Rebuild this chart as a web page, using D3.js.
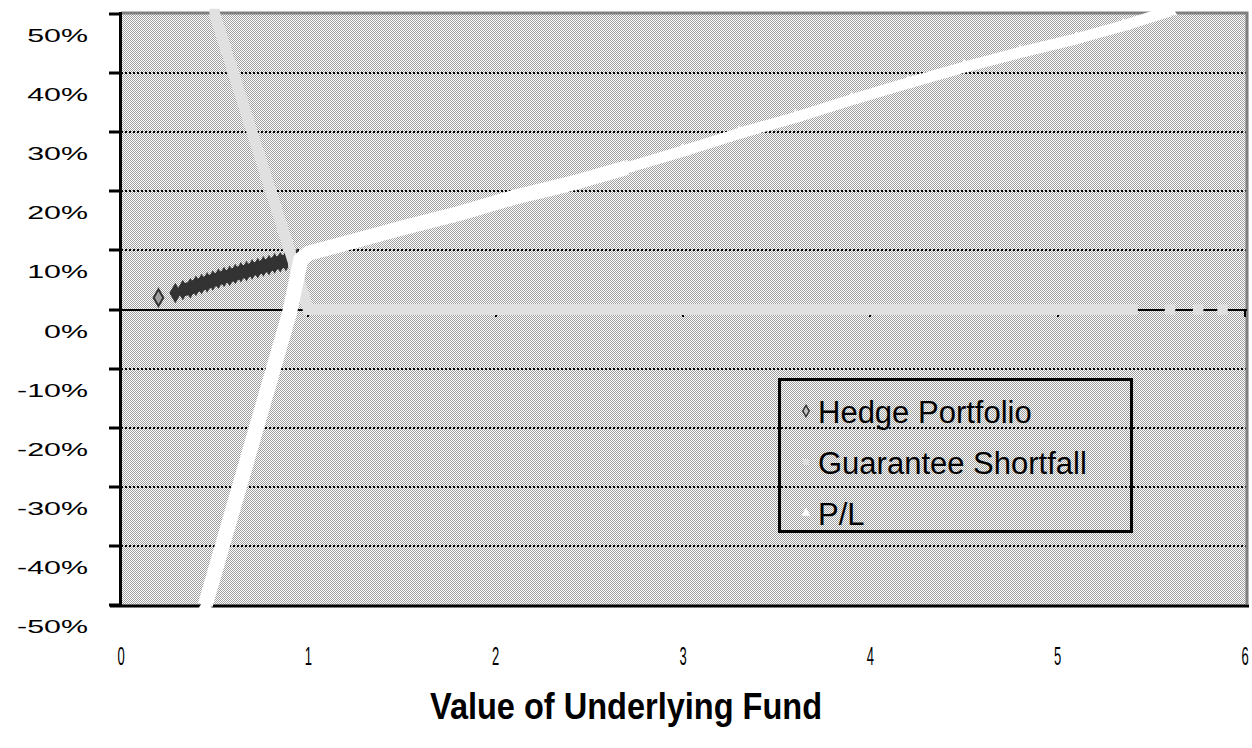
<!DOCTYPE html>
<html>
<head>
<meta charset="utf-8">
<script src="https://cdn.jsdelivr.net/npm/d3@7/dist/d3.min.js"></script>
<style>
  body { margin: 0; background: #fff; }
  svg { display: block; }
</style>
</head>
<body>
<script>
(function(){

//axis ticks
var yTicks = [50, 40, 30, 20, 10, 0, -10, -20, -30, -40, -50];
var xTicks = [0, 1, 2, 3, 4, 5, 6];

//hedge portfolio (value of fund, %)
var hedgeX = [0.20, 0.29, 0.33, 0.37, 0.40, 0.43, 0.46, 0.49, 0.52, 0.55, 0.58, 0.61,
              0.64, 0.67, 0.70, 0.73, 0.76, 0.79, 0.82, 0.85, 0.88, 0.91, 0.94];
var hedgeY = [2.0, 2.8, 3.3, 3.6, 4.0, 4.3, 4.6, 4.9, 5.2, 5.5, 5.7, 6.0,
              6.3, 6.5, 6.8, 7.0, 7.3, 7.5, 7.8, 8.0, 8.2, 8.4, 8.6];

//guarantee shortfall
var shortX = [0.50, 0.53, 0.56, 0.59, 0.62, 0.65, 0.68, 0.71, 0.74, 0.77, 0.80, 0.83,
              0.86, 0.89, 0.92, 0.95, 0.98, 1.00, 1.10, 1.30, 1.60, 2.00, 2.50, 3.00,
              3.50, 4.00, 4.50, 5.00, 5.40, 5.60, 5.75, 5.88];
var shortY = [50, 47, 44, 41, 38, 35, 32, 29, 26, 23, 20, 17,
              14, 11, 8, 5, 2, 0, 0, 0, 0, 0, 0, 0,
              0, 0, 0, 0, 0, 0, 0, 0];

//profit / loss
var plX = [0.45, 0.50, 0.55, 0.60, 0.65, 0.70, 0.75, 0.80, 0.85, 0.90, 0.93, 0.96,
           1.00, 1.20, 1.50, 1.80, 2.10, 2.40, 2.70, 3.00, 3.30, 3.60, 3.90, 4.20,
           4.50, 4.80, 5.10, 5.35, 5.60];
var plY = [-50, -44.5, -39, -33.5, -28, -22.5, -17, -11.5, -6, -0.5, 4, 8.5,
           9.5, 11.2, 13.8, 16.2, 19, 21.3, 24, 26.8, 29.8, 32.5, 35.5, 38.3,
           41, 43.5, 45.8, 48, 50.5];

var seriesNames = ["Hedge Portfolio", "Guarantee Shortfall", "P/L"];

window.onload = drawChart();

function zip(xs, ys){
    return xs.map(function(x, i){ return [x, ys[i]]; });
};

function drawChart(){

    var width = 1252,
        height = 748;

    var svg = d3.select("body")
        .append("svg")
        .attr("width", width)
        .attr("height", height);

    //dithered grey background like the old excel plot area
    var pat = svg.append("defs").append("pattern")
        .attr("id", "dither")
        .attr("width", 2)
        .attr("height", 2)
        .attr("patternUnits", "userSpaceOnUse");
    pat.append("rect").attr("width", 2).attr("height", 2).attr("fill", "#ffffff");
    pat.append("rect").attr("width", 1).attr("height", 1).attr("fill", "#a0a0a0");
    pat.append("rect").attr("x", 1).attr("y", 1).attr("width", 1).attr("height", 1).attr("fill", "#a0a0a0");

    var x = d3.scaleLinear().domain([0, 6]).range([121, 1245]);
    var y = d3.scaleLinear().domain([50, -50]).range([14, 605]);

    //plot area
    svg.append("rect")
        .attr("x", x(0))
        .attr("y", y(50))
        .attr("width", 1247 - x(0))
        .attr("height", y(-50) - y(50))
        .attr("fill", "url(#dither)")
        .attr("shape-rendering", "crispEdges");

    //dotted gridlines
    svg.selectAll(".grid")
        .data(yTicks.filter(function(d){ return d != 0 && d != 50 && d != -50; }))
        .enter()
        .append("line")
        .attr("class", "grid")
        .attr("x1", x(0))
        .attr("x2", 1246)
        .attr("y1", function(d){ return Math.round(y(d)); })
        .attr("y2", function(d){ return Math.round(y(d)); })
        .attr("stroke", "#000")
        .attr("stroke-width", 2)
        .attr("stroke-dasharray", "2,2")
        .attr("shape-rendering", "crispEdges");

    //border, grey top/right
    svg.append("path")
        .attr("d", "M" + x(0) + "," + 13 + "H1247V604")
        .attr("fill", "none")
        .attr("stroke", "#808080")
        .attr("stroke-width", 3);
    svg.append("line")
        .attr("x1", 110).attr("x2", 1249)
        .attr("y1", 606).attr("y2", 606)
        .attr("stroke", "#000")
        .attr("stroke-width", 3);

    //x axis along 0%
    svg.append("line")
        .attr("x1", x(0)).attr("x2", 1247)
        .attr("y1", Math.round(y(0))).attr("y2", Math.round(y(0)))
        .attr("stroke", "#000")
        .attr("stroke-width", 2);
    svg.selectAll(".xtick")
        .data(xTicks.slice(1))
        .enter()
        .append("line")
        .attr("class", "xtick")
        .attr("x1", function(d){ return Math.round(x(d)); })
        .attr("x2", function(d){ return Math.round(x(d)); })
        .attr("y1", Math.round(y(0)))
        .attr("y2", Math.round(y(0)) + 7)
        .attr("stroke", "#000")
        .attr("stroke-width", 2);

    //series drawn as dense marker bands
    var line = d3.line()
        .x(function(d){ return x(d[0]); })
        .y(function(d){ return y(d[1]); });

    var hedge = zip(hedgeX, hedgeY);
    var shortfall = zip(shortX, shortY);
    var pl = zip(plX, plY);

    svg.append("path")
        .datum(hedge.slice(2))
        .attr("d", line)
        .attr("fill", "none")
        .attr("stroke", "#333333")
        .attr("stroke-width", 13)
        .attr("stroke-linejoin", "round");
    svg.selectAll(".hedge")
        .data(hedge)
        .enter()
        .append("path")
        .attr("class", "hedge")
        .attr("transform", function(d){ return "translate(" + x(d[0]) + "," + y(d[1]) + ")"; })
        .attr("d", d3.symbol().type(d3.symbolDiamond).size(80))
        .attr("fill", function(d, i){ return i == 0 ? "#a0a0a0" : "#333333"; })
        .attr("stroke", "#333333")
        .attr("stroke-width", 2);

    svg.append("path")
        .datum(shortfall.slice(0, 29))
        .attr("d", line)
        .attr("fill", "none")
        .attr("stroke", "#e0e0e0")
        .attr("stroke-width", 11)
        .attr("stroke-linejoin", "round");
    svg.selectAll(".short")
        .data(shortfall)
        .enter()
        .append("path")
        .attr("class", "short")
        .attr("transform", function(d){ return "translate(" + x(d[0]) + "," + y(d[1]) + ")"; })
        .attr("d", d3.symbol().type(d3.symbolSquare).size(110))
        .attr("fill", "#e0e0e0");

    //P/L band is thick where the points crowd, thinner further out
    svg.append("path")
        .datum(pl.slice(0, 19))
        .attr("d", line)
        .attr("fill", "none")
        .attr("stroke", "#ffffff")
        .attr("stroke-width", 15)
        .attr("stroke-linejoin", "round");
    svg.append("path")
        .datum(pl.slice(18))
        .attr("d", line)
        .attr("fill", "none")
        .attr("stroke", "#ffffff")
        .attr("stroke-width", 11)
        .attr("stroke-linejoin", "round");
    svg.selectAll(".pl")
        .data(pl)
        .enter()
        .append("path")
        .attr("class", "pl")
        .attr("transform", function(d){ return "translate(" + x(d[0]) + "," + y(d[1]) + ")"; })
        .attr("d", d3.symbol().type(d3.symbolTriangle).size(90))
        .attr("fill", "#ffffff");

    //y axis
    svg.append("line")
        .attr("x1", 120.5).attr("x2", 120.5)
        .attr("y1", 12).attr("y2", 607)
        .attr("stroke", "#000")
        .attr("stroke-width", 3);
    svg.selectAll(".ytick")
        .data(yTicks)
        .enter()
        .append("line")
        .attr("class", "ytick")
        .attr("x1", 109).attr("x2", 121)
        .attr("y1", function(d){ return Math.round(y(d)); })
        .attr("y2", function(d){ return Math.round(y(d)); })
        .attr("stroke", "#000")
        .attr("stroke-width", 3);

    //y labels (sit a little under their ticks like the original)
    svg.selectAll(".ylab")
        .data(yTicks)
        .enter()
        .append("text")
        .attr("class", "ylab")
        .attr("transform", function(d){
            return "translate(88," + (y(d) + 28) + ") scale(1.6,1)";
        })
        .attr("text-anchor", "end")
        .style("font-family", "'Liberation Sans', Arial, sans-serif")
        .style("font-size", "19px")
        .text(function(d){ return d + "%"; });

    //x labels, narrow
    svg.selectAll(".xlab")
        .data(xTicks)
        .enter()
        .append("text")
        .attr("class", "xlab")
        .attr("transform", function(d){
            return "translate(" + x(d) + ",665) scale(0.5,1)";
        })
        .attr("text-anchor", "middle")
        .style("font-family", "'Liberation Sans', Arial, sans-serif")
        .style("font-size", "26px")
        .text(function(d){ return d; });

    //axis title
    svg.append("text")
        .attr("x", 430)
        .attr("y", 719)
        .attr("textLength", 392)
        .attr("lengthAdjust", "spacingAndGlyphs")
        .style("font-family", "'Liberation Sans Narrow', 'Liberation Sans', Arial, sans-serif")
        .style("font-weight", "bold")
        .style("font-size", "36px")
        .text("Value of Underlying Fund");

    //legend
    var legend = svg.append("g");
    legend.append("rect")
        .attr("x", 779.5).attr("y", 379.5)
        .attr("width", 352).attr("height", 152)
        .attr("fill", "none")
        .attr("stroke", "#000")
        .attr("stroke-width", 3);

    var legendSymbols = [d3.symbolDiamond, d3.symbolSquare, d3.symbolTriangle];
    var legendFill = ["#c0c0c0", "#e0e0e0", "#ffffff"];
    var legendStroke = ["#333333", "none", "none"];

    var items = legend.selectAll(".item")
        .data(seriesNames)
        .enter()
        .append("g")
        .attr("class", "item")
        .attr("transform", function(d, i){ return "translate(0," + (411 + i * 51) + ")"; });
    items.append("path")
        .attr("transform", "translate(806,0)")
        .attr("d", function(d, i){ return d3.symbol().type(legendSymbols[i]).size(36)(); })
        .attr("fill", function(d, i){ return legendFill[i]; })
        .attr("stroke", function(d, i){ return legendStroke[i]; })
        .attr("stroke-width", 1.5);
    items.append("text")
        .attr("x", 818)
        .attr("y", 12)
        .style("font-family", "'Liberation Sans', Arial, sans-serif")
        .style("font-size", "31px")
        .text(function(d){ return d; });
};

})();
</script>
</body>
</html>
